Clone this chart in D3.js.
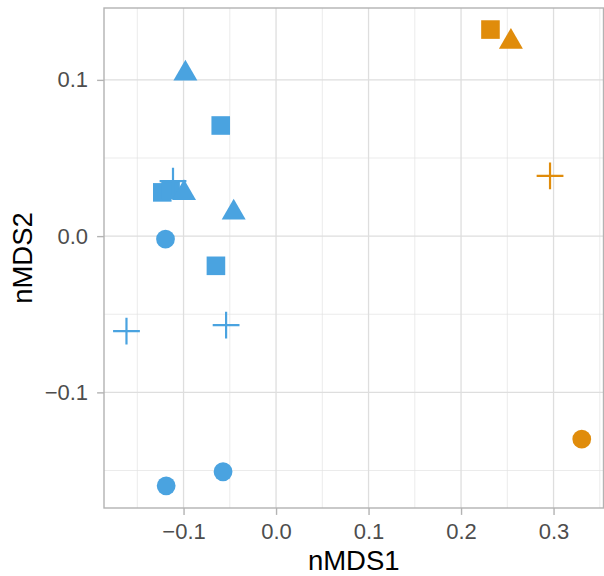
<!DOCTYPE html>
<html>
<head>
<meta charset="utf-8">
<script src="https://cdn.jsdelivr.net/npm/d3@7/dist/d3.min.js"></script>
<style>
  html, body { margin: 0; padding: 0; background: #ffffff; }
  svg { display: block; font-family: "Liberation Sans", Arial, Helvetica, sans-serif; }
</style>
</head>
<body>
<svg id="chart" width="604" height="576"></svg>
<script>
// ---- data ----
const nmds1 = [-0.0598, -0.1230, -0.1140, -0.0650,
               -0.1114, -0.1617, -0.0540,
               -0.0980, -0.0995, -0.0458,
               -0.1195, -0.1188, -0.0573,
                0.2318,  0.2539,  0.2962,  0.3305];
const nmds2 = [ 0.0708,  0.0280,  0.0297, -0.0190,
                0.0352, -0.0608, -0.0570,
                0.1040,  0.0275,  0.0150,
               -0.0019, -0.1598, -0.1508,
                0.1322,  0.1244,  0.0386, -0.1299];
const group = ["A","A","A","A","A","A","A","A","A","A","A","A","A","B","B","B","B"];
const shape = ["square","square","square","square",
               "plus","plus","plus",
               "triangle","triangle","triangle",
               "circle","circle","circle",
               "square","triangle","plus","circle"];
const xTicks = [-0.1, 0.0, 0.1, 0.2, 0.3];
const yTicks = [-0.1, 0.0, 0.1];
const xMinor = [-0.15, -0.05, 0.05, 0.15, 0.25, 0.35];
const yMinor = [-0.15, -0.05, 0.05];
const xTitle = "nMDS1";
const yTitle = "nMDS2";

// ---- layout ----
const panel = {left: 104, right: 603.5, top: 8, bottom: 508};
const x = d3.scaleLinear().domain([-0.186, 0.354]).range([panel.left, panel.right]);
const y = d3.scaleLinear().domain([-0.174, 0.146]).range([panel.bottom, panel.top]);
const color = d3.scaleOrdinal().domain(["A","B"]).range(["#4aa3e0", "#e08c0b"]);
const fmt = d3.format(".1f");

const svg = d3.select("#chart");

// grid
const grid = svg.append("g");
grid.selectAll("line.xminor").data(xMinor).join("line")
  .attr("x1", d => x(d)).attr("x2", d => x(d))
  .attr("y1", panel.top).attr("y2", panel.bottom)
  .attr("stroke", "#e3e3e3").attr("stroke-width", 0.7);
grid.selectAll("line.yminor").data(yMinor).join("line")
  .attr("y1", d => y(d)).attr("y2", d => y(d))
  .attr("x1", panel.left).attr("x2", panel.right)
  .attr("stroke", "#e3e3e3").attr("stroke-width", 0.7);
grid.selectAll("line.xmajor").data(xTicks).join("line")
  .attr("x1", d => x(d)).attr("x2", d => x(d))
  .attr("y1", panel.top).attr("y2", panel.bottom)
  .attr("stroke", "#dedede").attr("stroke-width", 1.3);
grid.selectAll("line.ymajor").data(yTicks).join("line")
  .attr("y1", d => y(d)).attr("y2", d => y(d))
  .attr("x1", panel.left).attr("x2", panel.right)
  .attr("stroke", "#dedede").attr("stroke-width", 1.3);

// points
const plusType = {
  draw(ctx, size) {
    const h = Math.sqrt(size) / 2;
    ctx.moveTo(-h, 0); ctx.lineTo(h, 0);
    ctx.moveTo(0, -h); ctx.lineTo(0, h);
  }
};
const symType = {circle: d3.symbolCircle, square: d3.symbolSquare, triangle: d3.symbolTriangle, plus: plusType};
const symSize = {circle: Math.PI * 9.4 * 9.4, square: 18.6 * 18.6, triangle: 249, plus: 26.8 * 26.8};

const idx = d3.range(nmds1.length);
svg.append("g").selectAll("path").data(idx).join("path")
  .attr("transform", i => `translate(${x(nmds1[i])},${y(nmds2[i])})`)
  .attr("d", i => d3.symbol(symType[shape[i]], symSize[shape[i]])())
  .attr("fill", i => shape[i] === "plus" ? "none" : color(group[i]))
  .attr("stroke", i => shape[i] === "plus" ? color(group[i]) : "none")
  .attr("stroke-width", 2.2);

// panel border
svg.append("rect")
  .attr("x", panel.left).attr("y", panel.top)
  .attr("width", panel.right - panel.left).attr("height", panel.bottom - panel.top)
  .attr("fill", "none").attr("stroke", "#b3b3b3").attr("stroke-width", 1.4);

// axes
const xAxis = d3.axisBottom(x).tickValues(xTicks).tickFormat(fmt).tickSize(6.9).tickPadding(8);
const gx = svg.append("g").attr("transform", `translate(0,${panel.bottom})`).call(xAxis);
const yAxis = d3.axisLeft(y).tickValues(yTicks).tickFormat(fmt).tickSize(6.9).tickPadding(9);
const gy = svg.append("g").attr("transform", `translate(${panel.left},0)`).call(yAxis);
[gx, gy].forEach(g => {
  g.select(".domain").remove();
  g.selectAll(".tick line").attr("stroke", "#b3b3b3").attr("stroke-width", 1.4);
  g.selectAll(".tick text").attr("fill", "#4d4d4d")
    .style("font-size", "22px").style("font-family", "'Liberation Sans', Arial, sans-serif");
});

// axis titles
svg.append("text")
  .attr("x", (panel.left + panel.right) / 2).attr("y", 570)
  .attr("text-anchor", "middle").attr("fill", "#000")
  .style("font-size", "27.5px").text(xTitle);
svg.append("text")
  .attr("transform", `translate(31.5,${(panel.top + panel.bottom) / 2}) rotate(-90)`)
  .attr("text-anchor", "middle").attr("fill", "#000")
  .style("font-size", "27.5px").text(yTitle);
</script>
</body>
</html>
